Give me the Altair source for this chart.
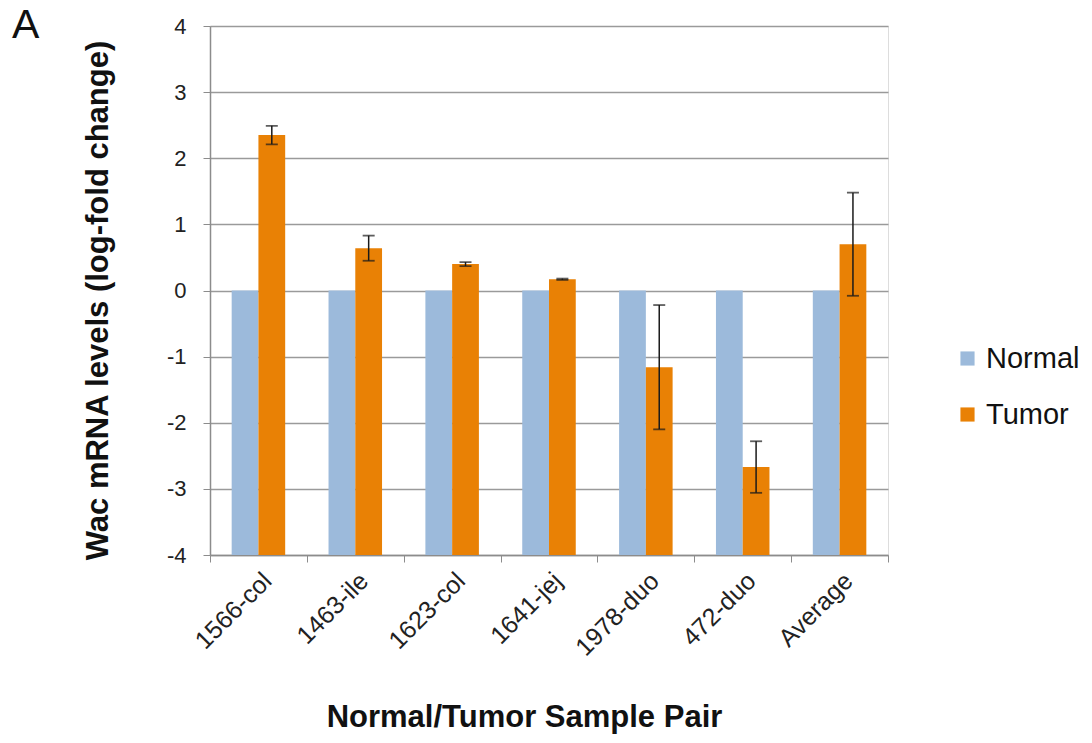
import altair as alt
import pandas as pd

categories = ["1566-col", "1463-ile", "1623-col", "1641-jej", "1978-duo", "472-duo", "Average"]
series = ["Normal", "Tumor"]
normal_values = [0, 0, 0, 0, 0, 0, 0]
tumor_values = [2.35, 0.64, 0.40, 0.17, -1.16, -2.67, 0.70]
tumor_errors = [0.14, 0.19, 0.03, 0.01, 0.94, 0.39, 0.78]
y_ticks = [-4, -3, -2, -1, 0, 1, 2, 3, 4]
colors = ["#9CBADB", "#E98105"]
panel_label = ["A"]

rows = []
for c, n in zip(categories, normal_values):
    rows.append({"cat": c, "series": "Normal", "value": n})
for c, t in zip(categories, tumor_values):
    rows.append({"cat": c, "series": "Tumor", "value": t})
bars_df = pd.DataFrame(rows)

err_df = pd.DataFrame({
    "cat": categories,
    "series": "Tumor",
    "lo": [t - e for t, e in zip(tumor_values, tumor_errors)],
    "hi": [t + e for t, e in zip(tumor_values, tumor_errors)],
})
cap_df = pd.concat([
    err_df[["cat", "series"]].assign(v=err_df["lo"]),
    err_df[["cat", "series"]].assign(v=err_df["hi"]),
])

FONT = "Liberation Sans"

x_enc = alt.X(
    "cat:N",
    sort=categories,
    scale=alt.Scale(paddingInner=0, paddingOuter=0),
    axis=alt.Axis(
        title="Normal/Tumor Sample Pair",
        labelAngle=-45,
        labelFontSize=25,
        labelFont=FONT,
        labelColor="#222222",
        labelPadding=6,
        tickBand="extent",
        tickSize=7,
        tickColor="#8c8c8c",
        domainColor="#8c8c8c",
        domainWidth=1.5,
        titleFont=FONT,
        titleFontSize=31,
        titleFontWeight="bold",
        titleColor="#111111",
        titleBaseline="alphabetic",
        titleAlign="center",
        titleX=314,
        titleY=171,
        grid=False,
    ),
)
xoff = alt.XOffset("series:N", sort=series, scale=alt.Scale(paddingOuter=0.81, paddingInner=0))
y_scale = alt.Scale(domain=[-4, 4], zero=False, nice=False)

bars = alt.Chart(bars_df).mark_bar().encode(
    x=x_enc,
    xOffset=xoff,
    y=alt.Y(
        "value:Q",
        scale=y_scale,
        axis=alt.Axis(
            values=y_ticks,
            labelExpr="'' + datum.value",
            title="Wac mRNA levels (log-fold change)",
            labelFontSize=22,
            labelFont=FONT,
            labelColor="#222222",
            labelPadding=17,
            tickSize=7,
            tickColor="#8c8c8c",
            domainColor="#8c8c8c",
            domainWidth=1.5,
            gridColor="#9a9a9a",
            gridWidth=1.3,
            titleFont=FONT,
            titleFontSize=31,
            titleFontWeight="bold",
            titleColor="#111111",
            titleAngle=-90,
            titleAlign="center",
            titleBaseline="middle",
            titleX=-112,
            titleY=274,
        ),
    ),
    y2=alt.datum(-4),
    color=alt.Color(
        "series:N",
        sort=series,
        scale=alt.Scale(domain=series, range=colors),
        legend=alt.Legend(
            title=None,
            orient="none",
            legendX=743,
            legendY=318,
            symbolType="square",
            symbolSize=200,
            symbolStrokeWidth=0,
            labelFontSize=29,
            labelFont=FONT,
            labelColor="#111111",
            labelOffset=4,
            rowPadding=26,
        ),
    ),
)

rules = alt.Chart(err_df).mark_rule(color="#1a1a1a", strokeWidth=1.5).encode(
    x=alt.X("cat:N", sort=categories),
    xOffset=alt.XOffset("series:N", sort=series),
    y=alt.Y("lo:Q", scale=y_scale),
    y2="hi:Q",
)

caps = alt.Chart(cap_df).mark_tick(color="#1a1a1a", thickness=1.8, size=12).encode(
    x=alt.X("cat:N", sort=categories),
    xOffset=alt.XOffset("series:N", sort=series),
    y=alt.Y("v:Q", scale=y_scale),
)

label_a = alt.Chart(pd.DataFrame({"label": panel_label})).mark_text(
    font=FONT, fontSize=41, color="#111111", align="left", baseline="alphabetic"
).encode(
    text="label:N",
    x=alt.value(-198),
    y=alt.value(12),
)

chart = alt.layer(bars, rules, caps, label_a).properties(
    width=678,
    height=529,
    autosize=alt.AutoSizeParams(type="none"),
    padding={"left": 210, "top": 26, "right": 204, "bottom": 188},
).configure_view(stroke=None).configure(background="white")

chart.save("out.html", embed_options={"renderer": "svg", "actions": False})
